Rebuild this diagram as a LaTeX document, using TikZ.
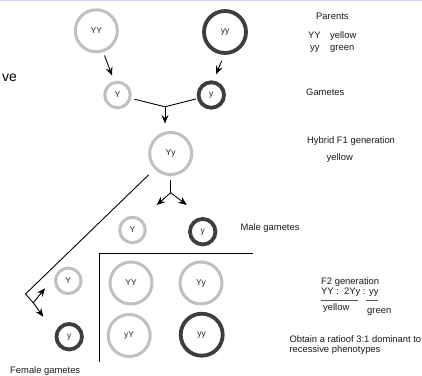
\documentclass[tikz,border=0pt]{standalone}
\usepackage{fontspec}
\setmainfont{Liberation Sans}
\usetikzlibrary{arrows.meta}
\definecolor{ringlight}{RGB}{192,192,192}
\definecolor{ringdark}{RGB}{62,62,62}
\definecolor{topband}{RGB}{204,204,255}
\definecolor{ulcol}{RGB}{85,85,85}
\tikzset{
  allele/.style={circle, inner sep=0pt, outer sep=0pt, text=black!85,
    font=\fontsize{8.5}{10}\selectfont},
  lightc/.style={allele, draw=ringlight, line width=3pt},
  darkc/.style={allele, draw=ringdark, line width=3.8pt},
  bigc/.style={minimum size=42pt},
  smallc/.style={minimum size=25.5pt},
  conn/.style={line width=0.9pt, black},
  arr/.style={conn, -{Stealth[length=8.5pt,width=7pt,inset=3pt]}},
  lbl/.style={anchor=base west, inner sep=0pt, text=black!90,
    font=\fontsize{9.4}{11}\selectfont}
}
\begin{document}
\begin{tikzpicture}[x=1pt,y=-1pt]
\useasboundingbox (0,0) rectangle (422,375);
\draw[topband, line width=1.4pt] (0,0.7) -- (422,0.7);

% parents
\node[lightc, bigc] (pYY) at (96.3,30.8) {YY};
\node[darkc, bigc] (pyy) at (225,32) {yy};
% gametes of the parents
\node[lightc, smallc] (gY) at (117.5,95) {Y};
\node[darkc, smallc] (gy) at (211.3,95) {y};
% F1 hybrid
\node[lightc, bigc] (hYy) at (170.7,153.5) {Yy};
% male gametes
\node[lightc, smallc] (mY) at (132.5,230) {Y};
\node[darkc, smallc] (my) at (202.7,231.7) {y};
% female gametes
\node[lightc, smallc] (fY) at (68.3,280.8) {Y};
\node[darkc, smallc] (fy) at (69.2,336.7) {y};
% Punnett square
\node[lightc, bigc] (qYY) at (131,283) {YY};
\node[lightc, bigc] (qYy) at (201,283) {Yy};
\node[lightc, bigc] (qyY) at (129.2,335.5) {yY};
\node[darkc, bigc] (qyy) at (201.7,334.7) {yy};

% parents to gametes
\draw[arr, shorten <=5pt, shorten >=7.5pt] (pYY.288) -- (gY.103);
\draw[arr, shorten <=8.4pt, shorten >=8.7pt] (pyy.270) -- (gy.84);

% fertilisation
\coordinate (J) at (165,106.8);
\draw[conn, shorten <=5pt] (gY) -- (J);
\draw[conn, shorten <=3pt] (gy) -- (J);
\draw[arr, shorten >=9pt] (J) -- (J |- hYy.north);

% F1 splits into male gametes
\coordinate (S) at (170.7,192.7);
\coordinate (SL) at (156.7,205);
\coordinate (SR) at (186.7,205);
\draw[conn, shorten <=5.5pt] (hYy.south) -- (S);
\draw[arr] (S) -- (SL);
\draw[arr] (S) -- (SR);

% F1 splits into female gametes
\coordinate (V) at (25.5,294);
\coordinate (W) at (33.3,302.8);
\coordinate (WT) at (45,288.3);
\coordinate (WB) at (43.3,316.7);
\draw[conn, shorten <=9.6pt] (hYy) -- (V) -- (W);
\draw[arr] (W) -- (WT);
\draw[arr] (W) -- (WB);

% grid lines
\coordinate (G0) at (99,253.3);
\coordinate (G1) at (253,253.3);
\coordinate (G2) at (99,361.7);
\draw[conn] (G1) -- (G0) -- (G2);

% texts
\node[anchor=base west, inner sep=0pt, font=\fontsize{14}{16}\selectfont] (cut) at (2,81.5) {ve};
\node[lbl] (tpar) at (316,19.3) {Parents};
\node[lbl] (tYY) at (308,38.5) {YY};
\node[lbl] (tYYc) at (330,38.5) {yellow};
\node[lbl] (tyy) at (310,50.5) {yy};
\node[lbl] (tyyc) at (330,50.5) {green};
\node[lbl] (tgam) at (306,95) {Gametes};
\node[lbl] (thyb) at (307,143.5) {Hybrid F1 generation};
\node[lbl] (thyc) at (326.5,160) {yellow};
\node[lbl] (tmale) at (240.3,230) {Male gametes};
\node[lbl] (tf2) at (321,284) {F2 generation};
\node[lbl] (tratio) at (321,294) {YY :\ \ 2Yy : yy};
\coordinate (U1) at (321,300.5);
\coordinate (U2) at (358,300.5);
\coordinate (U3) at (366,300.5);
\coordinate (U4) at (378,300.5);
\draw[ulcol, line width=1.2pt] (U1) -- (U2);
\draw[ulcol, line width=1.2pt] (U3) -- (U4);
\node[lbl] (tyel) at (323,310) {yellow};
\node[lbl] (tgrn) at (367,313) {green};
\node[lbl] (tob1) at (289.3,342.7) {Obtain a ratioof 3:1 dominant to};
\node[lbl] (tob2) at (289.3,352.2) {recessive phenotypes};
\node[lbl] (tfem) at (10,373.4) {Female gametes};
\end{tikzpicture}
\end{document}
